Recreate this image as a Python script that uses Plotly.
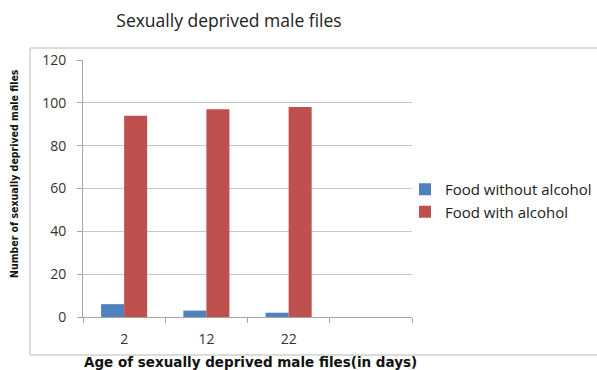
import plotly.graph_objects as go

# Age groups (days); the last slot is an empty category
ages = ["2", "12", "22", " "]
without_alcohol = [6, 3, 2, None]
with_alcohol = [94, 97, 98, None]
y_ticks = [0, 20, 40, 60, 80, 100, 120]

W, H = 597, 370

def px_x(v):
    return v / W

def px_y(v):
    return 1 - v / H

fig = go.Figure()
fig.add_trace(go.Bar(x=ages, y=without_alcohol, name="Food without alcohol",
                     marker=dict(color="#4F81BD", line=dict(width=0))))
fig.add_trace(go.Bar(x=ages, y=with_alcohol, name="Food with alcohol",
                     marker=dict(color="#C0504D", line=dict(width=0))))

fig.update_layout(
    width=W, height=H,
    margin=dict(l=0, r=0, t=0, b=0, autoexpand=False),
    paper_bgcolor="white", plot_bgcolor="white",
    barmode="group", bargap=0.44, bargroupgap=0,
    font=dict(family="Open Sans, Liberation Sans, sans-serif", color="#333333"),
    title=dict(text="Sexually deprived male files", x=px_x(229), xanchor="center",
               y=px_y(21), yanchor="middle",
               font=dict(size=17.5, color="#222222", family="Open Sans, sans-serif")),
    xaxis=dict(
        domain=[px_x(83), px_x(412)], automargin=False,
        type="category", categoryorder="array", categoryarray=ages,
        tickson="boundaries", ticks="outside", ticklen=5, tickcolor="#a6a6a6",
        ticklabelstandoff=9,
        showline=True, linecolor="#a6a6a6", linewidth=1,
        showgrid=False, tickfont=dict(size=14, color="#333333"),
        range=[-0.5, 3.5],
    ),
    yaxis=dict(
        domain=[px_y(317), px_y(60)], automargin=False,
        range=[0, 120], tickvals=y_ticks,
        ticks="outside", ticklen=5, tickcolor="#a6a6a6",
        ticklabelstandoff=8,
        showline=True, linecolor="#a6a6a6", linewidth=1,
        showgrid=True, gridcolor="#c8c8c8", gridwidth=1,
        zeroline=False, tickfont=dict(size=14, color="#333333"),
    ),
    legend=dict(x=px_x(405), y=px_y(173), xanchor="left", yanchor="top",
                font=dict(size=15, color="#222222"), tracegroupgap=0,
                itemwidth=30, bgcolor="rgba(0,0,0,0)"),
    showlegend=True,
)

# Chart-area frame: top, left and bottom edges (right edge runs off the page)
frame = dict(color="#d0d0d0", width=1.5)
x_left, y_top, y_bot = px_x(30), px_y(48), px_y(355)
fig.add_shape(type="line", xref="paper", yref="paper", x0=x_left, x1=1.0,
              y0=y_top, y1=y_top, line=frame, layer="below")
fig.add_shape(type="line", xref="paper", yref="paper", x0=x_left, x1=1.0,
              y0=y_bot, y1=y_bot, line=frame, layer="below")
fig.add_shape(type="line", xref="paper", yref="paper", x0=x_left, x1=x_left,
              y0=y_bot, y1=y_top, line=frame, layer="below")

# Axis titles
fig.add_annotation(text="<b>Number of sexually deprived male files</b>",
                   xref="paper", yref="paper", x=px_x(14), y=px_y(174),
                   textangle=-90, showarrow=False, xanchor="center", yanchor="middle",
                   font=dict(size=10.5, color="#111111",
                             family="Liberation Sans Narrow, DejaVu Sans Condensed, sans-serif"))
fig.add_annotation(text="<b>Age of sexually deprived male files(in days)</b>",
                   xref="paper", yref="paper", x=px_x(250), y=px_y(362),
                   showarrow=False, xanchor="center", yanchor="middle",
                   font=dict(size=13.5, color="#111111",
                             family="DejaVu Sans, Liberation Sans, sans-serif"))

fig.write_html("out.html")
